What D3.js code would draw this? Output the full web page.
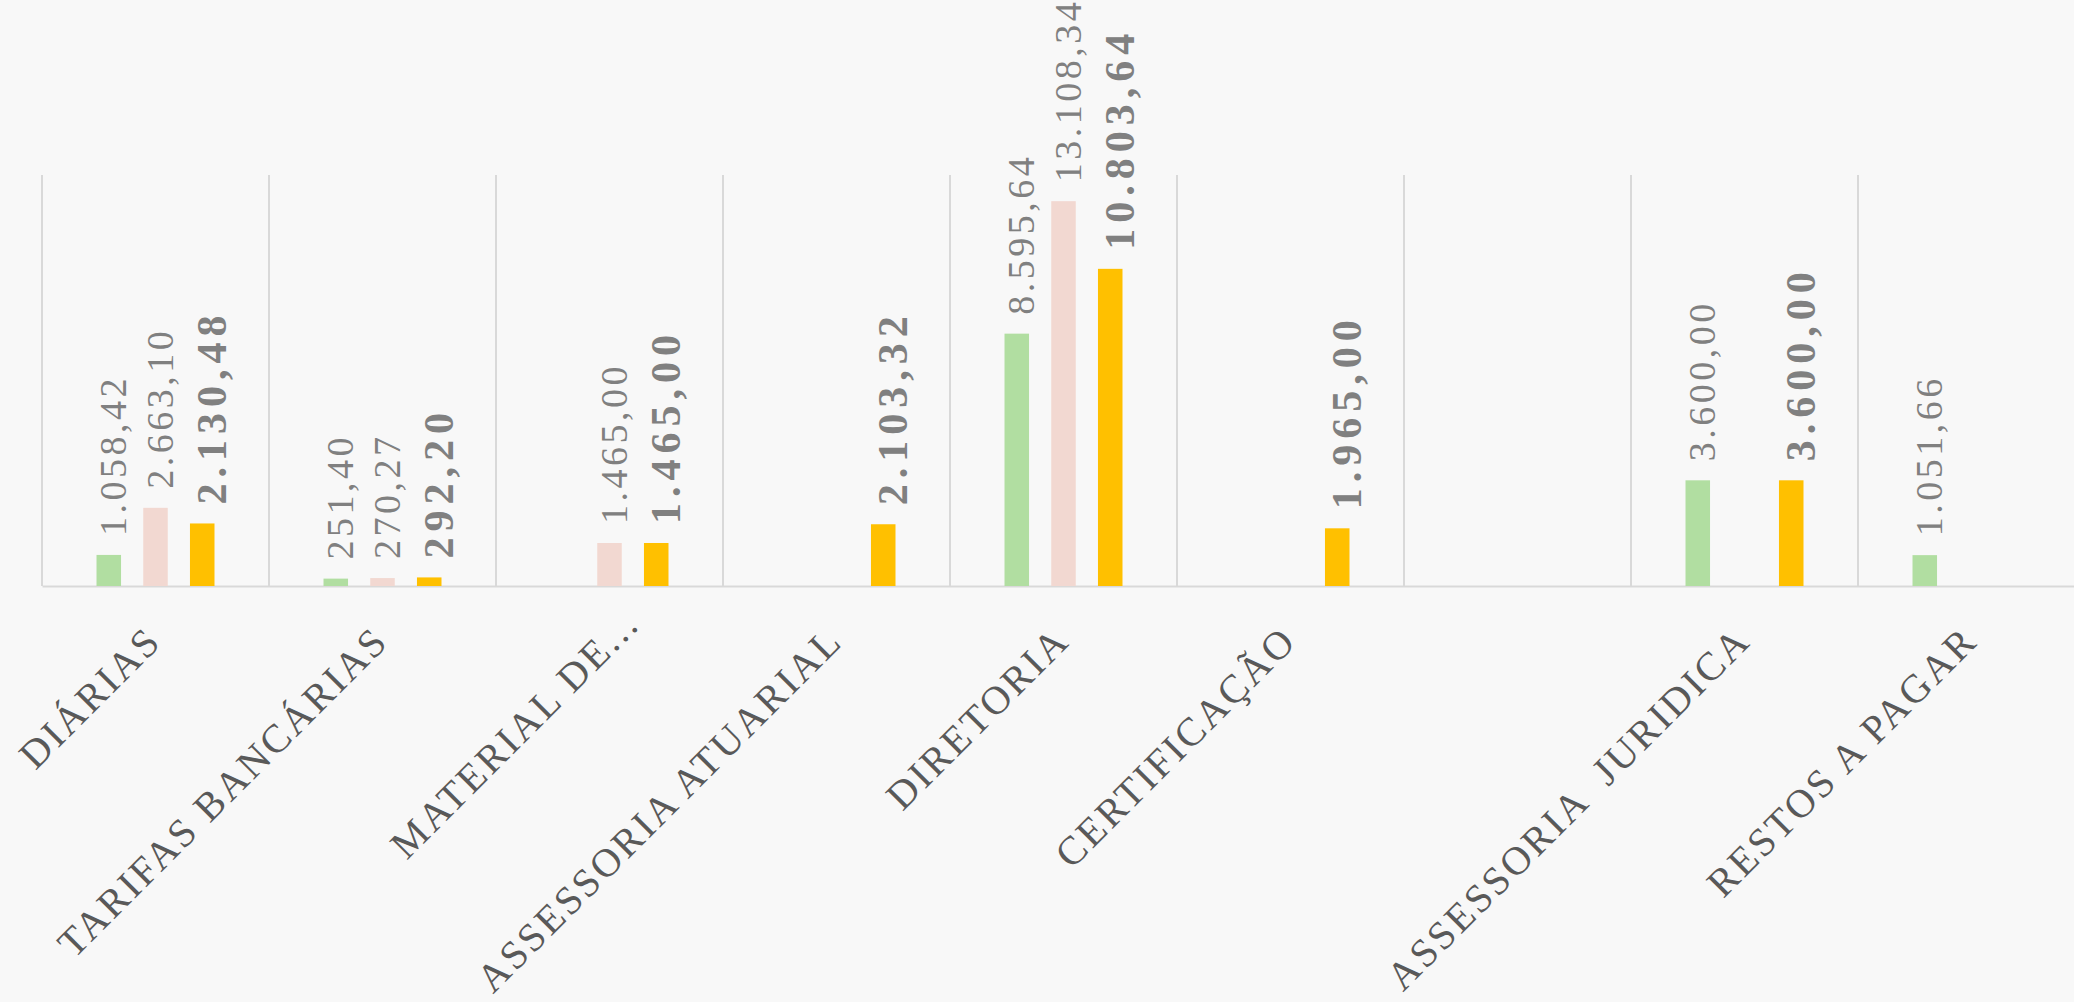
<!DOCTYPE html>
<html>
<head>
<meta charset="utf-8">
<script src="https://cdn.jsdelivr.net/npm/d3@7"></script>
<style>
  body { margin: 0; background: #f8f8f8; }
  svg { display: block; }
</style>
</head>
<body>
<div id="chart"></div>
<script>
// chart data
var categories = ["DIÁRIAS", "TARIFAS BANCÁRIAS", "MATERIAL DE...", "ASSESSORIA ATUARIAL",
  "DIRETORIA", "CERTIFICAÇÃO", "", "ASSESSORIA  JURIDICA", "RESTOS A PAGAR"];
var seriesNames = ["s1", "s2", "s3"];
var serie1 = [1058.42, 251.40, null, null, 8595.64, null, null, 3600.00, 1051.66];
var serie2 = [2663.10, 270.27, 1465.00, null, 13108.34, null, null, null, null];
var serie3 = [2130.48, 292.20, 1465.00, 2103.32, 10803.64, 1965.00, null, 3600.00, null];
var colors = ["#b1dea1", "#f2d8d1", "#ffc000"];

var svgWidth = 2074, svgHeight = 1002;
var margin = { top: 175, left: 42, bottom: 416 };
var step = 227;
var height = svgHeight - margin.top - margin.bottom;

var svg = d3.select("#chart").append("svg")
  .attr("width", svgWidth)
  .attr("height", svgHeight);

svg.append("rect")
  .attr("width", svgWidth)
  .attr("height", svgHeight)
  .attr("fill", "#f8f8f8");

var chartGroup = svg.append("g")
  .attr("transform", `translate(${margin.left}, ${margin.top})`);

var x0 = d3.scaleBand()
  .domain(d3.range(categories.length))
  .range([0, step * categories.length]);

// inner band for the three series
var x1 = d3.scaleBand()
  .domain(seriesNames)
  .range([x0.bandwidth() / 2 - 59, x0.bandwidth() / 2 + 59])
  .paddingInner(0.475);

var y = d3.scaleLinear()
  .domain([0, 14000])
  .range([height, 0]);

var br = d3.formatLocale({ decimal: ",", thousands: ".", grouping: [3], currency: ["R$", ""] });
var fmt = br.format(",.2f");

// vertical gridlines between categories
chartGroup.selectAll(".grid")
  .data(d3.range(categories.length + 1))
  .enter()
  .append("line")
  .attr("x1", d => d * step)
  .attr("x2", d => d * step)
  .attr("y1", y(14000))
  .attr("y2", height)
  .attr("stroke", "#d9d9d9")
  .attr("stroke-width", 2);

// x axis
var xAxis = chartGroup.append("g")
  .attr("transform", `translate(0, ${height})`)
  .call(d3.axisBottom(x0).tickSize(0).tickFormat(i => categories[i]));

xAxis.select(".domain")
  .attr("stroke", "#d9d9d9")
  .attr("stroke-width", 2);

xAxis.selectAll("text")
  .attr("font-family", "'Liberation Serif', serif")
  .attr("font-size", 40)
  .attr("letter-spacing", "2.7px")
  .attr("fill", "#595959")
  .attr("text-anchor", "end")
  .style("white-space", "pre")
  .attr("y", 0)
  .attr("dy", 0)
  // truncated label sits a bit further up the diagonal
  .attr("transform", (i) => categories[i].endsWith("...")
    ? "translate(32, 40) rotate(-45)"
    : "translate(8, 57) rotate(-45)");

var rows = [];
categories.forEach(function(c, i) {
  [serie1, serie2, serie3].forEach(function(s, j) {
    if (s[i] != null) rows.push({ cat: i, serie: seriesNames[j], idx: j, value: s[i] });
  });
});

chartGroup.selectAll(".bar")
  .data(rows)
  .enter()
  .append("rect")
  .attr("x", d => x0(d.cat) + x1(d.serie))
  .attr("y", d => y(d.value))
  .attr("width", x1.bandwidth())
  .attr("height", d => height - y(d.value))
  .attr("fill", d => colors[d.idx]);

chartGroup.selectAll(".label")
  .data(rows)
  .enter()
  .append("text")
  .attr("transform", function(d) {
    var cx = x0(d.cat) + x1(d.serie) + x1.bandwidth() / 2 + (d.idx == 2 ? 10 : 5);
    return `translate(${cx}, ${y(d.value) - 19}) rotate(-90)`;
  })
  .attr("dy", "0.33em")
  .attr("font-family", "'Liberation Serif', serif")
  .attr("font-size", d => d.idx == 2 ? 42 : 38)
  .attr("font-weight", d => d.idx == 2 ? "bold" : "normal")
  .attr("letter-spacing", d => d.idx == 2 ? "6px" : "3.5px")
  .attr("fill", "#808080")
  .text(d => fmt(d.value));
</script>
</body>
</html>
